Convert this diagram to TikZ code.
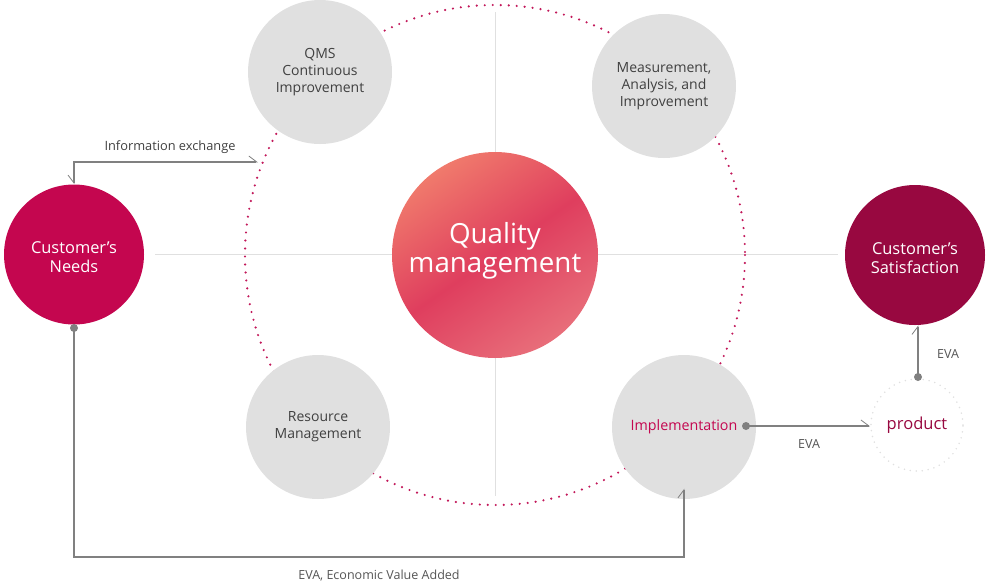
\documentclass[tikz,border=0pt]{standalone}
\usepackage{fontspec}
\setmainfont{Open Sans}
\usetikzlibrary{arrows.meta}
\definecolor{qgrey}{HTML}{E0E0E0}
\definecolor{qtext}{HTML}{404040}
\definecolor{qlabel}{HTML}{555555}
\definecolor{qneeds}{HTML}{C4064F}
\definecolor{qsatis}{HTML}{980840}
\definecolor{qring}{HTML}{C2185A}
\definecolor{qline}{HTML}{808080}
\definecolor{qtop}{HTML}{F07A6C}
\definecolor{qmid}{HTML}{DF3E5E}
\definecolor{qbot}{HTML}{E86E7A}

\begin{document}
\begin{tikzpicture}[x=0.75pt,y=-0.75pt,
  greycirc/.style={circle,fill=qgrey,minimum size=108pt,inner sep=0pt,align=center,
    text=qtext,font=\fontsize{10.5}{12.75}\selectfont},
  redcirc/.style={circle,minimum size=105pt,inner sep=0pt,align=center,text height=27.5pt,
    text=white,font=\fontsize{12.3}{14.25}\selectfont},
  conn/.style={draw=qline,line width=0.9pt},
  lbl/.style={text=qlabel,font=\fontsize{9.4}{11}\selectfont,inner sep=1pt},
  barb/.style={-{Straight Barb[harpoon,length=6pt,width=9pt,line width=0.6pt]}}]
\useasboundingbox (0,0) rectangle (990,587);
% cross and ring
\draw[qgrey,line width=0.75pt] (155,254) -- (838,254);
\draw[qgrey,line width=0.75pt] (495,12) -- (495,496);
\draw[qring,line width=1.8pt,line cap=round,dash pattern=on 0pt off 6pt] (495,255) circle [radius=250];
% circles
\node[circle,minimum size=154.5pt,inner sep=0pt,align=center,text=white,text depth=12pt,
  font=\fontsize{20.8}{21.75}\selectfont,
  top color=qtop,bottom color=qbot,middle color=qmid,shading angle=35]
  (qm) at (495,255) {Quality\\management};
\node[greycirc] (qms) at (320,72) {QMS\\Continuous\\Improvement};
\node[greycirc] (meas) at (664,86) {Measurement,\\Analysis, and\\Improvement};
\node[greycirc] (res) at (318,427) {Resource\\Management};
\node[greycirc,text=qneeds,font=\fontsize{10.7}{12}\selectfont] (impl) at (684,427) {Implementation};
\node[redcirc,fill=qneeds] (needs) at (74,254.5) {Customer’s\\Needs};
\node[redcirc,fill=qsatis] (satis) at (915,255) {Customer’s\\Satisfaction};
\node[circle,minimum size=69pt,inner sep=0pt,draw=qgrey,line width=1.3pt,line cap=round,
  dash pattern=on 0pt off 4.5pt,text=qsatis,font=\fontsize{12.4}{14}\selectfont]
  (prod) at (917,425) {product};
% connectors
\coordinate (ix) at (258,162);
\coordinate (d1) at (74,328);
\coordinate (d2) at (746,426);
\coordinate (d3) at (918,377);
\coordinate (low) at (74,557);
\foreach \d in {d1,d2,d3} \fill[qline] (\d) circle [radius=4];
\draw[conn,{Straight Barb[harpoon,swap,length=6pt,width=9pt,line width=0.6pt]}-{Straight Barb[harpoon,length=6pt,width=9pt,line width=0.6pt]}]
  (needs.north) |- (ix);
\draw[conn,barb] (d1) -- (low) -| ([yshift=8pt]impl.south);
\draw[conn,barb] (d2) -- (d2 -| prod.west);
\draw[conn,barb] (d3) -- (d3 |- satis.south);
% labels
\node[text=qtext,font=\fontsize{9.6}{11}\selectfont] (tinfo) at (170,147) {Information exchange};
\node[lbl] (teva1) at (809,444) {EVA};
\node[lbl] (teva2) at (948,354) {EVA};
\node[lbl] (teva3) at (379,576) {EVA, Economic Value Added};
\end{tikzpicture}
\end{document}
